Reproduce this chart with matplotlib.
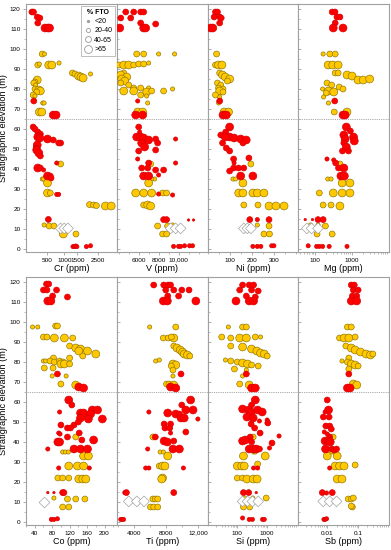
import numpy as np
import matplotlib
matplotlib.use("Agg")
import matplotlib.pyplot as plt
from matplotlib.lines import Line2D
from matplotlib.ticker import FixedLocator, MultipleLocator, NullFormatter, LogLocator

plt.rcParams['font.family'] = ['Liberation Sans', 'DejaVu Sans']

# each spot: (elevation m, concentration, FTO class 0..3, unit r/y/w)
cr = [
    (118.5, 200, 2, 'r'), (118.5, 225, 2, 'r'), (116, 290, 2, 'r'), (115.5, 340, 2, 'r'),
    (113, 300, 2, 'r'), (110.5, 450, 3, 'r'), (110.5, 520, 3, 'r'), (110.5, 560, 3, 'r'),
    (97.5, 390, 2, 'y'), (97.5, 440, 1, 'y'), (92, 300, 2, 'y'), (92.5, 330, 1, 'y'),
    (92, 540, 3, 'y'), (92, 620, 3, 'y'), (93, 830, 1, 'y'),
    (88, 1300, 2, 'y'), (87.5, 1400, 2, 'y'), (86.5, 1550, 3, 'y'), (86, 1650, 3, 'y'),
    (85.5, 1750, 3, 'y'), (87.5, 2100, 1, 'y'),
    (84.5, 290, 3, 'y'), (83.5, 250, 2, 'y'), (83, 230, 2, 'y'), (82, 260, 1, 'y'),
    (80, 250, 2, 'y'), (79.5, 320, 3, 'y'), (79, 350, 3, 'y'), (78.5, 280, 2, 'y'),
    (77, 220, 2, 'y'), (76.5, 250, 1, 'y'), (74, 230, 2, 'r'), (73, 400, 1, 'y'), (73, 430, 1, 'y'),
    (68.5, 330, 3, 'y'), (68.5, 380, 3, 'y'), (67, 660, 3, 'r'), (67, 740, 3, 'r'),
    (61, 220, 2, 'r'), (60, 250, 2, 'r'), (58.5, 300, 2, 'r'), (57.5, 350, 2, 'r'),
    (56, 300, 3, 'r'), (55.5, 340, 3, 'r'), (55, 510, 3, 'r'), (54.5, 660, 2, 'r'),
    (53, 880, 2, 'r'), (53, 820, 2, 'r'), (52, 290, 3, 'r'), (50.5, 270, 2, 'r'),
    (49.5, 280, 3, 'r'), (48, 320, 3, 'r'), (46.5, 350, 2, 'r'),
    (43, 760, 1, 'r'), (42.5, 880, 2, 'y'), (40.5, 300, 3, 'r'), (40.5, 350, 2, 'r'),
    (39.5, 420, 1, 'r'), (36.5, 510, 3, 'r'), (36.5, 580, 2, 'r'), (35.5, 600, 2, 'r'),
    (35, 390, 1, 'y'), (35, 420, 1, 'y'), (33, 510, 3, 'y'), (28, 510, 3, 'y'), (28, 580, 2, 'y'),
    (27.3, 760, 1, 'r'), (27.3, 820, 1, 'r'),
    (22.2, 2050, 2, 'y'), (22, 2250, 2, 'y'), (21.7, 2400, 2, 'y'), (21.5, 2900, 3, 'y'), (21.5, 3250, 3, 'y'),
    (14.8, 530, 2, 'r'), (12, 430, 1, 'y'), (11.5, 550, 2, 'y'), (11.5, 680, 2, 'y'),
    (10.3, 880, 3, 'w'), (10.3, 1000, 3, 'w'), (10.3, 1130, 3, 'w'),
    (7.5, 970, 3, 'y'), (7.5, 1440, 2, 'y'),
    (1.2, 1320, 1, 'r'), (1.2, 1380, 1, 'r'), (1.5, 1430, 1, 'r'), (1.2, 1480, 1, 'r'),
    (1.2, 1900, 1, 'r'), (1.6, 2100, 1, 'r'),
]

v = [
    (118.5, 4700, 2, 'r'), (118.5, 5500, 2, 'r'), (118.5, 6200, 2, 'r'), (118.5, 6500, 2, 'r'),
    (115.5, 4200, 2, 'r'), (115.5, 5200, 2, 'r'), (113, 6200, 2, 'r'), (112.5, 7700, 2, 'r'),
    (110.5, 4100, 3, 'r'), (110.5, 6500, 3, 'r'), (110.5, 6700, 3, 'r'),
    (97.5, 5800, 2, 'y'), (97.5, 6500, 2, 'y'), (97.5, 8000, 1, 'y'), (97.5, 9600, 1, 'y'),
    (92, 4000, 2, 'y'), (92, 4500, 3, 'y'), (92, 5000, 3, 'y'), (92, 5500, 2, 'y'),
    (92.5, 6000, 2, 'y'), (92.5, 6500, 2, 'y'), (93, 7000, 1, 'y'),
    (88, 4500, 2, 'y'), (87, 4200, 3, 'y'), (86, 4800, 3, 'y'), (85, 4300, 3, 'y'),
    (84, 4600, 3, 'y'), (83, 4200, 2, 'y'), (82, 5000, 2, 'y'),
    (80.5, 5500, 2, 'y'), (80.5, 6200, 2, 'y'), (80.5, 7000, 1, 'y'),
    (79, 4500, 3, 'y'), (79, 5500, 3, 'y'), (78.5, 6800, 3, 'y'), (79, 7300, 2, 'y'),
    (79, 8500, 2, 'y'), (80, 9400, 1, 'y'), (77, 6200, 2, 'y'), (76.5, 6800, 1, 'y'),
    (74, 5900, 1, 'r'), (73, 6900, 1, 'y'), (68.5, 5900, 3, 'y'), (68.5, 6400, 3, 'y'),
    (67, 5700, 3, 'r'), (67, 6400, 3, 'r'),
    (61, 6000, 2, 'r'), (58.5, 6100, 1, 'r'), (56, 5800, 3, 'r'), (56, 6200, 3, 'r'),
    (55.5, 6500, 3, 'r'), (54.5, 7000, 3, 'r'), (55, 7700, 2, 'r'), (55, 9700, 1, 'r'),
    (53, 6300, 3, 'r'), (53, 7900, 2, 'r'), (51, 6600, 3, 'r'), (49.5, 7700, 2, 'r'), (49, 6000, 2, 'r'),
    (45, 5900, 1, 'r'), (43, 9700, 1, 'r'), (42.5, 7200, 2, 'y'), (43, 7000, 2, 'r'),
    (40.5, 6300, 2, 'r'), (40.5, 6900, 2, 'r'), (39.5, 7700, 2, 'r'), (39.5, 8500, 2, 'r'),
    (37, 8000, 1, 'r'), (36.5, 6500, 3, 'r'), (36.5, 7000, 3, 'r'),
    (35, 7600, 1, 'y'), (35, 7300, 1, 'y'), (33, 7000, 3, 'y'),
    (28, 5700, 3, 'y'), (28, 6500, 3, 'y'), (28, 7300, 3, 'y'), (28, 8400, 2, 'y'), (28, 8800, 2, 'y'),
    (27, 9400, 1, 'r'), (27.5, 8000, 1, 'r'),
    (22, 6500, 2, 'y'), (22, 6900, 3, 'y'), (21.5, 7200, 3, 'y'),
    (14.7, 8500, 2, 'r'), (14.7, 8800, 2, 'r'), (14.5, 11000, 0, 'r'), (14.5, 11500, 0, 'r'),
    (11.5, 7900, 2, 'y'), (11.5, 8900, 2, 'y'), (12, 9400, 1, 'y'),
    (10.3, 9200, 3, 'w'), (10.3, 9700, 3, 'w'), (10.3, 10200, 3, 'w'),
    (7.5, 8400, 2, 'y'), (7.5, 8800, 2, 'y'),
    (1.3, 9500, 1, 'r'), (1.3, 10000, 1, 'r'), (1.3, 10200, 1, 'r'), (1.6, 10600, 1, 'r'),
    (1.6, 11100, 1, 'r'), (1.6, 11400, 1, 'r'),
]

ni = [
    (118.5, 36, 2, 'r'), (118.5, 45, 2, 'r'), (116, 30, 2, 'r'), (116, 55, 2, 'r'), (115.5, 62, 2, 'r'),
    (113, 55, 2, 'r'), (110.5, 14, 3, 'r'), (110.5, 24, 3, 'r'),
    (97.5, 41, 2, 'y'), (92, 36, 2, 'y'), (92, 50, 3, 'y'), (92, 65, 3, 'y'),
    (88, 55, 2, 'y'), (87, 68, 3, 'y'), (86, 80, 3, 'y'), (85, 100, 3, 'y'), (84, 90, 2, 'y'),
    (83, 45, 2, 'y'), (82, 60, 2, 'y'), (80.5, 50, 2, 'y'), (80, 70, 2, 'y'), (79, 55, 3, 'y'),
    (78.5, 70, 2, 'y'), (77, 36, 2, 'y'), (76, 55, 1, 'y'), (74, 55, 2, 'r'), (73, 50, 1, 'y'),
    (68.5, 75, 3, 'y'), (68.5, 95, 3, 'y'), (67, 70, 3, 'r'), (67, 85, 3, 'r'),
    (61, 100, 3, 'r'), (58.5, 82, 2, 'r'), (57, 60, 2, 'r'), (56, 100, 3, 'r'), (55.5, 120, 3, 'r'),
    (55, 150, 3, 'r'), (54.5, 175, 3, 'r'), (56, 80, 3, 'r'), (53, 68, 2, 'r'), (53, 160, 2, 'r'),
    (50.5, 85, 2, 'r'), (49, 100, 2, 'r'), (45, 118, 2, 'r'), (45.5, 187, 2, 'r'),
    (43, 120, 1, 'r'), (42.5, 196, 2, 'y'), (40.5, 118, 2, 'r'), (40.5, 140, 2, 'r'), (40.5, 164, 2, 'r'),
    (39, 100, 2, 'r'), (36.5, 150, 3, 'r'), (36.5, 205, 3, 'r'), (35, 115, 1, 'y'), (35, 127, 1, 'y'),
    (33, 160, 3, 'y'), (28, 141, 3, 'y'), (28, 160, 3, 'y'), (28, 205, 3, 'y'), (28, 225, 3, 'y'),
    (28, 255, 3, 'y'), (22, 164, 2, 'y'), (22, 228, 2, 'y'), (21.5, 278, 3, 'y'), (21.5, 309, 3, 'y'),
    (21.5, 346, 3, 'y'), (14.7, 191, 2, 'r'), (14.7, 225, 1, 'r'), (14.7, 278, 2, 'r'),
    (12, 225, 1, 'y'), (11.5, 278, 2, 'y'), (10.3, 164, 3, 'w'), (10.3, 180, 3, 'w'), (10.3, 196, 3, 'w'),
    (7.5, 255, 2, 'y'), (7.5, 280, 2, 'y'),
    (1.3, 205, 1, 'r'), (1.3, 225, 1, 'r'), (1.3, 241, 1, 'r'), (1.6, 290, 1, 'r'), (1.6, 300, 1, 'r'),
]

mg = [
    (118.5, 290, 2, 'r'), (118.5, 346, 2, 'r'), (116, 390, 2, 'r'), (116, 470, 2, 'r'),
    (113, 350, 2, 'r'), (110.5, 310, 3, 'r'), (110.5, 570, 3, 'r'),
    (97.5, 165, 1, 'y'), (97.5, 250, 2, 'y'), (97.5, 350, 2, 'y'),
    (92, 225, 3, 'y'), (92, 300, 3, 'y'), (92, 420, 3, 'y'),
    (88, 350, 2, 'y'), (88, 420, 2, 'y'), (87, 730, 3, 'y'), (86.5, 1000, 3, 'y'),
    (84.5, 1450, 3, 'y'), (84.5, 2000, 3, 'y'), (85, 3000, 3, 'y'),
    (83, 210, 2, 'y'), (82, 280, 2, 'y'), (81, 450, 2, 'y'), (80, 570, 2, 'y'),
    (80, 160, 1, 'y'), (79, 230, 3, 'y'), (78.5, 320, 3, 'y'), (78, 200, 2, 'y'), (76, 170, 1, 'y'),
    (74, 340, 2, 'r'), (73, 230, 1, 'y'), (68.5, 330, 2, 'y'), (68.5, 730, 3, 'y'),
    (67, 570, 3, 'r'), (67, 650, 3, 'r'),
    (61, 700, 3, 'r'), (59, 900, 2, 'r'), (57, 600, 3, 'r'), (56, 1100, 3, 'r'),
    (55, 650, 3, 'r'), (54, 1150, 3, 'r'), (53, 600, 2, 'r'), (51, 700, 3, 'r'),
    (49, 550, 2, 'r'), (49, 800, 2, 'r'), (45, 210, 1, 'r'), (44.5, 320, 1, 'r'),
    (43, 360, 2, 'r'), (42.5, 470, 2, 'y'), (40.5, 430, 2, 'r'), (40.5, 600, 3, 'r'),
    (36.5, 500, 3, 'r'), (36.5, 620, 3, 'r'), (35, 220, 1, 'y'), (35, 270, 1, 'y'),
    (33, 540, 3, 'y'), (33, 880, 3, 'y'),
    (28, 130, 2, 'y'), (28, 310, 3, 'y'), (28, 540, 3, 'y'), (28, 880, 3, 'y'),
    (22, 165, 2, 'y'), (22, 270, 2, 'y'), (21.5, 470, 3, 'y'),
    (14.7, 54, 0, 'r'), (14.7, 85, 0, 'r'), (14.7, 120, 2, 'r'), (14.7, 165, 2, 'r'),
    (12, 75, 1, 'y'), (12, 120, 1, 'y'), (11.5, 190, 2, 'y'),
    (10.3, 60, 3, 'w'), (10.3, 80, 3, 'w'), (10.3, 120, 3, 'w'),
    (7.5, 113, 2, 'y'), (7.5, 290, 2, 'y'),
    (1.6, 65, 1, 'r'), (1.3, 110, 1, 'r'), (1.3, 130, 1, 'r'), (1.3, 160, 1, 'r'),
    (1.3, 240, 1, 'r'), (1.3, 730, 1, 'r'),
]

co = [
    (119, 67, 2, 'r'), (119, 72, 2, 'r'), (116, 60, 2, 'r'), (116, 68, 2, 'r'), (116, 90, 2, 'r'),
    (113, 81, 2, 'r'), (112.5, 115, 2, 'r'), (110.5, 70, 3, 'r'), (110.5, 77, 3, 'r'),
    (97.5, 35, 1, 'y'), (97.5, 47, 1, 'y'), (98, 88, 2, 'y'), (98, 92, 2, 'y'),
    (92.5, 60, 2, 'y'), (92.5, 68, 2, 'y'), (92, 85, 3, 'y'), (92, 108, 3, 'y'), (92, 127, 2, 'y'),
    (88, 120, 2, 'y'), (87, 134, 3, 'y'), (86.5, 145, 3, 'y'), (85.5, 141, 3, 'y'), (85.5, 161, 3, 'y'),
    (84, 180, 3, 'y'), (83, 150, 2, 'y'), (82, 83, 2, 'y'), (82, 120, 2, 'y'),
    (80.5, 60, 1, 'y'), (80.5, 65, 1, 'y'), (80.5, 75, 2, 'y'), (80, 85, 2, 'y'), (80.5, 97, 2, 'y'),
    (80, 105, 2, 'y'), (79, 100, 3, 'y'), (79, 108, 3, 'y'), (79, 120, 2, 'y'),
    (77, 62, 2, 'y'), (77, 82, 2, 'y'), (74, 92, 2, 'r'), (73, 80, 1, 'y'), (73, 112, 1, 'y'),
    (69, 100, 2, 'y'), (68.5, 134, 3, 'y'), (67.5, 141, 3, 'r'), (67, 152, 3, 'r'),
    (61, 118, 3, 'r'), (58.5, 125, 2, 'r'), (56, 172, 3, 'r'), (56, 184, 3, 'r'), (55, 97, 1, 'r'),
    (54.5, 145, 3, 'r'), (54.5, 152, 3, 'r'), (54, 168, 3, 'r'), (52, 145, 3, 'r'), (51.5, 163, 3, 'r'),
    (51.5, 195, 3, 'r'), (48.5, 100, 2, 'r'), (48.5, 130, 2, 'r'), (50, 140, 2, 'r'),
    (47, 115, 2, 'r'), (47, 122, 2, 'r'), (44.5, 95, 1, 'r'), (44, 98, 1, 'r'), (44.5, 142, 2, 'r'),
    (42.5, 115, 2, 'r'), (42.5, 134, 2, 'y'), (40, 93, 3, 'r'), (40, 97, 3, 'r'), (41, 148, 2, 'r'),
    (41, 175, 3, 'r'), (36.5, 70, 1, 'r'), (36.5, 130, 3, 'r'), (36.5, 145, 3, 'r'), (36.5, 161, 3, 'r'),
    (35, 104, 1, 'y'), (35, 110, 1, 'y'), (35, 117, 1, 'y'), (33, 152, 3, 'y'), (33, 163, 3, 'y'),
    (28, 118, 3, 'y'), (28, 138, 3, 'y'), (28, 152, 3, 'y'), (27, 95, 1, 'r'), (27, 165, 1, 'r'),
    (22, 93, 2, 'y'), (22, 104, 2, 'y'), (22, 118, 2, 'y'),
    (21.5, 141, 3, 'y'), (21.5, 150, 3, 'y'), (21.5, 157, 3, 'y'),
    (14.7, 70, 0, 'r'), (14.7, 84, 0, 'r'), (14.7, 104, 2, 'r'), (14.7, 107, 2, 'r'),
    (12, 84, 1, 'y'), (11.5, 115, 2, 'y'), (11.5, 134, 2, 'y'), (11.5, 155, 2, 'y'),
    (10, 61, 3, 'w'), (7.5, 104, 2, 'y'), (7.5, 118, 2, 'y'),
    (1.3, 78, 1, 'r'), (1.3, 84, 1, 'r'), (1.6, 92, 1, 'r'),
]

ti = [
    (118.5, 6500, 2, 'r'), (118.5, 7750, 2, 'r'), (118.5, 8300, 2, 'r'), (118.5, 8600, 2, 'r'),
    (116, 8000, 2, 'r'), (116, 9000, 2, 'r'), (116, 10000, 2, 'r'), (116, 10900, 2, 'r'),
    (113, 8250, 2, 'r'), (113, 9600, 2, 'r'), (110.5, 7700, 3, 'r'), (110.5, 8200, 3, 'r'),
    (110.5, 11750, 3, 'r'), (97.5, 6000, 1, 'y'), (97.5, 9250, 2, 'y'),
    (92, 7700, 2, 'y'), (92, 8300, 2, 'y'), (92, 9000, 3, 'y'), (92.5, 8700, 2, 'y'),
    (88, 9000, 2, 'y'), (87, 9400, 3, 'y'), (86, 9800, 3, 'y'), (85, 10100, 3, 'y'),
    (84, 10300, 3, 'y'), (83.5, 10700, 3, 'y'), (83, 11000, 2, 'y'),
    (80.5, 6750, 1, 'y'), (81, 7200, 1, 'y'), (79, 8900, 3, 'y'), (78.5, 9250, 3, 'y'),
    (78, 8700, 2, 'y'), (76, 8900, 2, 'y'), (74, 9900, 2, 'r'), (73, 8900, 1, 'y'),
    (69, 8100, 2, 'y'), (69, 8400, 2, 'y'), (68.5, 9000, 3, 'y'), (67.5, 8600, 3, 'r'), (67, 9250, 3, 'r'),
    (61, 11100, 3, 'r'), (58.5, 10000, 2, 'r'), (56, 10500, 3, 'r'), (56, 11400, 3, 'r'),
    (55, 5900, 1, 'r'), (54.5, 8250, 3, 'r'), (54, 9250, 3, 'r'), (54, 9700, 2, 'r'),
    (52, 9900, 3, 'r'), (52, 10300, 3, 'r'), (51.5, 12000, 1, 'r'), (49, 8600, 2, 'r'), (49, 7800, 2, 'r'),
    (47, 7900, 2, 'r'), (47, 8500, 2, 'r'), (44.5, 8600, 1, 'r'), (45, 10500, 2, 'r'),
    (42.5, 6400, 2, 'y'), (42.5, 6700, 2, 'r'), (40.5, 7800, 3, 'r'), (40, 8200, 3, 'r'), (40.5, 9000, 2, 'r'),
    (36.5, 5750, 1, 'r'), (36.5, 8900, 3, 'r'), (36.5, 9700, 3, 'r'),
    (35, 7300, 1, 'y'), (35, 7700, 1, 'y'), (33, 8250, 3, 'y'),
    (28, 7200, 2, 'y'), (28, 7600, 3, 'y'), (28, 7900, 3, 'y'),
    (27, 5500, 1, 'r'), (27, 5900, 1, 'r'), (27, 10200, 1, 'r'),
    (22, 7600, 3, 'y'), (21.5, 7500, 3, 'y'),
    (14.7, 2900, 1, 'r'), (14.7, 3100, 2, 'r'), (14.7, 9000, 2, 'r'),
    (11.5, 6400, 2, 'y'), (11.5, 6700, 2, 'y'), (11.5, 7000, 2, 'y'),
    (10.3, 3400, 3, 'w'), (10.3, 4400, 3, 'w'), (10.3, 5300, 3, 'w'),
    (7.5, 6100, 2, 'y'), (7.5, 6500, 2, 'y'), (7.5, 7000, 2, 'y'),
    (1.3, 2400, 1, 'r'), (1.3, 2600, 1, 'r'), (1.3, 2750, 1, 'r'),
]

si = [
    (118.5, 150, 2, 'r'), (118.5, 250, 2, 'r'), (118.5, 350, 2, 'r'), (116, 120, 2, 'r'),
    (116, 300, 2, 'r'), (115.5, 500, 2, 'r'), (113, 200, 2, 'r'), (112.5, 400, 2, 'r'),
    (110.5, 90, 3, 'r'), (110.5, 250, 3, 'r'), (110.5, 350, 3, 'r'),
    (97.5, 50, 1, 'y'), (97.5, 150, 2, 'y'), (97.5, 200, 2, 'y'),
    (92.5, 30, 2, 'y'), (92, 60, 2, 'y'), (92, 120, 3, 'y'), (92, 200, 3, 'y'), (92.5, 400, 2, 'y'),
    (92.5, 600, 1, 'y'), (88, 60, 2, 'y'), (87.5, 150, 3, 'y'), (86.5, 300, 3, 'y'), (85.5, 450, 3, 'y'),
    (84.5, 600, 3, 'y'), (84, 800, 3, 'y'), (83, 1000, 2, 'y'),
    (81, 40, 1, 'y'), (80.5, 60, 2, 'y'), (80, 100, 2, 'y'), (79.5, 150, 3, 'y'), (79, 220, 3, 'y'),
    (78.5, 300, 2, 'y'), (78, 500, 2, 'y'), (76.5, 80, 2, 'y'), (76, 200, 1, 'y'),
    (74, 200, 2, 'r'), (73, 150, 1, 'y'), (69, 120, 2, 'y'), (68.5, 250, 3, 'y'),
    (67, 300, 3, 'r'), (67, 400, 3, 'r'),
    (61, 400, 3, 'r'), (58.5, 300, 2, 'r'), (56.5, 150, 3, 'r'), (56, 240, 3, 'r'), (55, 290, 3, 'r'),
    (56, 480, 3, 'r'), (55, 680, 3, 'r'), (52.5, 210, 3, 'r'), (52, 340, 3, 'r'), (51, 1000, 1, 'r'),
    (49, 290, 2, 'r'), (49.5, 1050, 2, 'r'), (50.5, 550, 1, 'r'), (47, 380, 2, 'r'), (44.5, 580, 2, 'r'),
    (42.5, 270, 2, 'r'), (42.5, 340, 2, 'y'), (43, 2500, 1, 'r'),
    (40.5, 150, 3, 'r'), (41, 185, 3, 'r'), (39.5, 1450, 2, 'r'), (40, 300, 2, 'r'),
    (36.5, 250, 3, 'r'), (36.5, 350, 3, 'r'), (36.5, 430, 3, 'r'), (36.5, 550, 2, 'r'), (37, 1200, 1, 'r'),
    (35, 350, 1, 'y'), (35, 400, 1, 'y'), (33, 160, 3, 'y'), (33, 860, 3, 'y'),
    (28, 100, 3, 'y'), (28, 140, 3, 'y'), (28, 170, 3, 'y'), (29, 480, 2, 'y'),
    (27, 350, 1, 'r'), (27, 480, 1, 'r'),
    (22, 100, 2, 'y'), (22, 150, 2, 'y'), (21.5, 210, 3, 'y'), (21.5, 340, 3, 'y'), (21.5, 460, 3, 'y'),
    (14.7, 160, 2, 'r'), (14.7, 240, 2, 'r'), (14.7, 430, 0, 'r'),
    (12, 180, 1, 'y'), (12, 330, 1, 'y'), (12, 930, 2, 'y'),
    (10.3, 150, 3, 'w'), (10.3, 220, 3, 'w'), (10.3, 320, 3, 'w'), (10.3, 500, 3, 'w'),
    (7.5, 160, 2, 'y'), (7.5, 260, 2, 'y'),
    (2, 150, 1, 'r'), (1.3, 250, 1, 'r'), (1.3, 320, 1, 'r'), (1.3, 700, 1, 'r'), (1.3, 800, 1, 'r'),
]

sb = [
    (118.5, 0.06, 2, 'r'), (118.5, 0.075, 2, 'r'), (116, 0.07, 2, 'r'), (116, 0.1, 2, 'r'),
    (113, 0.065, 2, 'r'), (113, 0.09, 2, 'r'), (110.5, 0.06, 3, 'r'), (110.5, 0.09, 3, 'r'),
    (97.5, 0.045, 2, 'y'), (97.5, 0.06, 2, 'y'),
    (92, 0.025, 2, 'y'), (92, 0.035, 3, 'y'), (92, 0.05, 3, 'y'), (92.5, 0.08, 2, 'y'),
    (88, 0.04, 2, 'y'), (87, 0.06, 3, 'y'), (86, 0.08, 3, 'y'), (85, 0.12, 3, 'y'), (84, 0.18, 3, 'y'),
    (83.5, 0.25, 3, 'y'), (84, 0.3, 2, 'y'), (82, 0.05, 2, 'y'),
    (80.5, 0.03, 1, 'y'), (80, 0.045, 2, 'y'), (79, 0.06, 3, 'y'), (78.5, 0.08, 3, 'y'), (78, 0.1, 2, 'y'),
    (76.5, 0.05, 2, 'y'), (74, 0.05, 2, 'r'), (69, 0.07, 3, 'y'), (68.5, 0.09, 3, 'y'),
    (67, 0.045, 3, 'r'), (67, 0.055, 3, 'r'),
    (61, 0.010, 2, 'r'), (56, 0.011, 3, 'r'), (55, 0.0085, 1, 'r'),
    (52.5, 0.0075, 2, 'r'), (52.5, 0.0115, 2, 'r'), (48, 0.009, 2, 'r'), (48, 0.012, 2, 'r'),
    (46.5, 0.0135, 2, 'r'), (45, 0.008, 1, 'r'), (42.5, 0.0155, 2, 'y'), (42.5, 0.012, 2, 'r'),
    (44, 0.01, 1, 'r'), (40.5, 0.0085, 3, 'r'), (40.5, 0.011, 3, 'r'), (40, 0.0125, 3, 'r'),
    (36.5, 0.0088, 3, 'r'), (36.5, 0.014, 2, 'r'), (36, 0.017, 2, 'r'), (36.5, 0.02, 2, 'r'),
    (35, 0.014, 1, 'y'), (35, 0.017, 1, 'y'), (33, 0.01, 3, 'y'), (33, 0.021, 3, 'y'),
    (28, 0.018, 3, 'y'), (28, 0.025, 3, 'y'), (28, 0.035, 3, 'y'), (28.5, 0.08, 2, 'y'),
    (27, 0.012, 1, 'r'), (21.5, 0.021, 3, 'y'), (21.5, 0.03, 3, 'y'),
    (14.7, 0.0069, 2, 'r'), (14.5, 0.0095, 1, 'r'), (14.7, 0.0145, 2, 'r'),
    (11.5, 0.048, 2, 'y'), (11.5, 0.06, 2, 'y'), (12, 0.07, 2, 'y'),
    (10.3, 0.0074, 3, 'w'), (10.3, 0.012, 3, 'w'), (10.3, 0.02, 3, 'w'),
    (7.5, 0.065, 2, 'y'), (8, 0.06, 2, 'y'),
    (1.3, 0.0078, 1, 'r'), (1.3, 0.0085, 1, 'r'), (1.6, 0.0095, 1, 'r'),
]

fto_labels = ['<20', '20-40', '40-65', '>65']

FTO_SIZES = np.array([3, 9, 18, 32])
UNIT_STYLE = {
    'y': dict(marker='o', c='#ffc800', edgecolors='#8c7400'),
    'r': dict(marker='o', c='#ff0000', edgecolors='#d40000'),
    'w': dict(marker='D', c='white', edgecolors='#9a9a9a'),
}
AXIS_GREY = '#a0a0a0'


def sqrt_fwd(x):
    return np.sqrt(np.clip(x, 0, None))


def sqrt_inv(x):
    return np.square(x)


def draw_panel(ax, data, xlabel, scale, xlim, ticks, ticklabels, first=False):
    elev = np.array([d[0] for d in data], dtype=float)
    vals = np.array([d[1] for d in data], dtype=float)
    fto = np.array([d[2] for d in data], dtype=int)
    unit = np.array([d[3] for d in data])

    if scale == 'sqrt':
        ax.set_xscale('function', functions=(sqrt_fwd, sqrt_inv))
    elif scale == 'log':
        ax.set_xscale('log')

    for u, style in UNIT_STYLE.items():
        m = unit == u
        size = FTO_SIZES[fto[m]]
        if u == 'w':
            size = np.full(m.sum(), 30)
        ax.scatter(vals[m], elev[m], s=size, linewidths=0.45, zorder=3, **style)

    ax.axhline(65, color='#8c8c8c', lw=0.6, ls=(0, (1, 1.2)), zorder=1)

    ax.set_xlim(*xlim)
    ax.set_ylim(-1.5, 122.5)
    ax.yaxis.set_major_locator(MultipleLocator(10))
    ax.yaxis.set_minor_locator(MultipleLocator(5))

    ax.xaxis.set_major_locator(FixedLocator(ticks))
    ax.set_xticklabels(ticklabels)
    if scale == 'log':
        ax.xaxis.set_minor_locator(LogLocator(base=10, subs=np.arange(2, 10)))
        ax.xaxis.set_minor_formatter(NullFormatter())

    for sp in ax.spines.values():
        sp.set_color(AXIS_GREY)
        sp.set_linewidth(0.8)
    ax.tick_params(axis='both', which='both', color=AXIS_GREY, labelsize=4.6, pad=1.5)
    ax.tick_params(axis='both', which='major', length=2.5, width=0.6)
    ax.tick_params(axis='both', which='minor', length=1.5, width=0.5)
    ax.tick_params(axis='x', which='both', direction='out')
    if first:
        ax.tick_params(axis='y', which='both', direction='out')
        ax.set_ylabel("Stratigraphic elevation (m)", fontsize=6.6)
        ax.yaxis.set_label_coords(-0.2, 0.5)
    else:
        ax.tick_params(axis='y', which='both', direction='in', labelleft=False)
    ax.set_xlabel(xlabel, fontsize=6.5, labelpad=1)


W, H = 391, 550
fig = plt.figure(figsize=(W / 100, H / 100), dpi=100)

lefts = [26, 116.75, 207.5, 298.25]
pw = 90.75
rows = [(4, 252), (277, 525)]

panels = [
    [(cr, "Cr (ppm)", 'sqrt', (120, 3600), [500, 1000, 1500, 2500], ['500', '1000', '1500', '2500']),
     (v, "V (ppm)", 'linear', (3800, 12900), [6000, 8000, 10000], ['6000', '8000', '10,000']),
     (ni, "Ni (ppm)", 'linear', (0, 410), [100, 200, 300], ['100', '200', '300']),
     (mg, "Mg (ppm)", 'log', (35, 10000), [100, 1000], ['100', '1000'])],
    [(co, "Co (ppm)", 'linear', (20, 228), [40, 80, 120, 160, 200], ['40', '80', '120', '160', '200']),
     (ti, "Ti (ppm)", 'linear', (1900, 13200), [4000, 8000, 12000], ['4000', '8000', '12,000']),
     (si, "Si (ppm)", 'log', (10, 11000), [100, 1000], ['100', '1000']),
     (sb, "Sb (ppm)", 'log', (0.00115, 1.0), [0.01, 0.1], ['0.01', '0.1'])],
]

axes = []
for (top, bottom), row in zip(rows, panels):
    for i, (data, xlabel, scale, xlim, ticks, labels) in enumerate(row):
        ax = fig.add_axes([lefts[i] / W, 1 - bottom / H, pw / W, (bottom - top) / H])
        draw_panel(ax, data, xlabel, scale, xlim, ticks, labels, first=(i == 0))
        if scale == 'linear':
            step = (ticks[1] - ticks[0]) / 2
            ax.xaxis.set_minor_locator(MultipleLocator(step))
        axes.append(ax)

# FTO size legend in the Cr panel
handles = [Line2D([], [], ls='', marker='o', markersize=np.sqrt(s), markerfacecolor='white',
                  markeredgecolor='#9a9a9a', markeredgewidth=0.6)
           for s in FTO_SIZES]
handles[0].set_markerfacecolor('#9a9a9a')
leg = axes[0].legend(handles, fto_labels, title="% FTO", loc='upper right', fontsize=5,
                     title_fontsize=5, frameon=True, fancybox=False, borderpad=0.4,
                     labelspacing=0.35, handletextpad=0.3, handlelength=1.2,
                     borderaxespad=0.25)
leg.get_title().set_fontweight('bold')
leg.get_frame().set_edgecolor(AXIS_GREY)
leg.get_frame().set_linewidth(0.6)

fig.savefig("out.png", dpi=100)
